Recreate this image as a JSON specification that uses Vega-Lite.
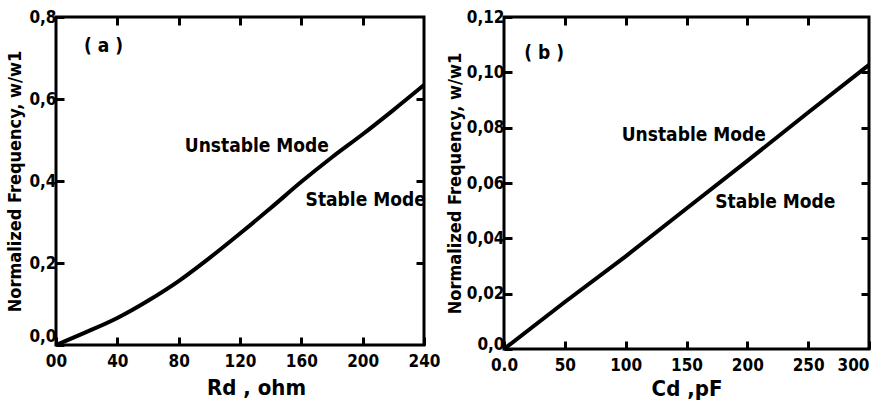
{
  "$schema": "https://vega.github.io/schema/vega-lite/v6.json",
  "background": "white",
  "padding": {"left": 5, "top": 6, "right": 2, "bottom": 2},
  "spacing": 2,
  "config": {
    "font": "DejaVu Sans",
    "view": {"stroke": "black", "strokeWidth": 3},
    "axis": {
      "domain": false,
      "grid": false,
      "ticks": true,
      "tickSize": -8,
      "tickWidth": 3,
      "tickColor": "black",
      "labelFont": "DejaVu Sans Condensed",
      "labelFontSize": 17,
      "labelFontWeight": "bold",
      "labelColor": "black",
      "titleFont": "DejaVu Sans Condensed",
      "titleFontWeight": "bold",
      "titleColor": "black"
    },
    "axisX": {"labelPadding": 16},
    "axisY": {"labelPadding": 8},
    "text": {"font": "DejaVu Sans Condensed", "fontWeight": "bold", "fontSize": 19, "color": "black"}
  },
  "datasets": {
    "a": [
      {"x": 0, "y": 0}, {"x": 20, "y": 0.032}, {"x": 40, "y": 0.066}, {"x": 60, "y": 0.108},
      {"x": 80, "y": 0.156}, {"x": 100, "y": 0.212}, {"x": 120, "y": 0.272}, {"x": 140, "y": 0.334},
      {"x": 160, "y": 0.398}, {"x": 180, "y": 0.458}, {"x": 200, "y": 0.514}, {"x": 220, "y": 0.573},
      {"x": 240, "y": 0.634}
    ],
    "b": [
      {"x": 0, "y": 0}, {"x": 50, "y": 0.017}, {"x": 100, "y": 0.0335}, {"x": 150, "y": 0.0508},
      {"x": 200, "y": 0.068}, {"x": 250, "y": 0.0855}, {"x": 300, "y": 0.1027}
    ]
  },
  "hconcat": [
    {
      "width": 368,
      "height": 328,
      "resolve": {"axis": {"x": "independent", "y": "independent"}},
      "layer": [
        {
          "data": {"name": "a"},
          "mark": {"type": "line", "color": "black", "strokeWidth": 4, "interpolate": "monotone"},
          "encoding": {
            "x": {"field": "x", "type": "quantitative", "scale": {"domain": [0, 240], "nice": false},
              "axis": {"values": [0, 40, 80, 120, 160, 200, 240], "labelExpr": "datum.value == 0 ? '00' : datum.label", "title": "Rd , ohm", "titleFontSize": 22, "titlePadding": 8, "titleX": 200, "labelFlush": false}},
            "y": {"field": "y", "type": "quantitative", "scale": {"domain": [0, 0.8], "nice": false},
              "axis": {"values": [0, 0.2, 0.4, 0.6, 0.8], "labelExpr": "replace(format(datum.value, '.1f'), '.', ',')", "labelBaseline": {"condition": {"test": "datum.value == 0", "value": "bottom"}, "value": "middle"}, "title": "Normalized Frequency, w/w1", "titleFontSize": 18, "titlePadding": 4}}
          }
        },
        {
          "data": {"name": "a"},
          "mark": {"type": "line", "opacity": 0},
          "encoding": {
            "x": {"field": "x", "type": "quantitative", "axis": {"orient": "top", "values": [40, 80, 120, 160, 200], "labels": false, "title": null}},
            "y": {"field": "y", "type": "quantitative", "axis": {"orient": "right", "values": [0.2, 0.4, 0.6], "labels": false, "title": null}}
          }
        },
        {
          "data": {"values": [{}]},
          "mark": {"type": "text"},
          "encoding": {"x": {"datum": 31, "type": "quantitative", "axis": null}, "y": {"datum": 0.73, "type": "quantitative", "axis": null}, "text": {"value": "( a )"}}
        },
        {
          "data": {"values": [{}]},
          "mark": {"type": "text"},
          "encoding": {"x": {"datum": 131, "type": "quantitative", "axis": null}, "y": {"datum": 0.485, "type": "quantitative", "axis": null}, "text": {"value": "Unstable Mode"}}
        },
        {
          "data": {"values": [{}]},
          "mark": {"type": "text"},
          "encoding": {"x": {"datum": 202, "type": "quantitative", "axis": null}, "y": {"datum": 0.353, "type": "quantitative", "axis": null}, "text": {"value": "Stable Mode"}}
        }
      ]
    },
    {
      "width": 365,
      "height": 332,
      "resolve": {"axis": {"x": "independent", "y": "independent"}},
      "layer": [
        {
          "data": {"name": "b"},
          "mark": {"type": "line", "color": "black", "strokeWidth": 4},
          "encoding": {
            "x": {"field": "x", "type": "quantitative", "scale": {"domain": [0, 300], "nice": false},
              "axis": {"values": [0, 50, 100, 150, 200, 250, 300], "labelExpr": "datum.value == 0 ? '0.0' : datum.label", "labelAlign": {"condition": {"test": "datum.value == 300", "value": "right"}, "value": "center"}, "title": "Cd ,pF", "titleFontSize": 22, "titlePadding": 5, "labelFlush": false}},
            "y": {"field": "y", "type": "quantitative", "scale": {"domain": [0, 0.12], "nice": false},
              "axis": {"values": [0, 0.02, 0.04, 0.06, 0.08, 0.1, 0.12], "labelExpr": "datum.value == 0 ? '0,0' : replace(format(datum.value, '.2f'), '.', ',')", "labelBaseline": {"condition": {"test": "datum.value == 0", "value": "alphabetic"}, "value": "middle"}, "title": "Normalized Frequency, w/w1", "titleFontSize": 18, "titlePadding": 2}}
          }
        },
        {
          "data": {"name": "b"},
          "mark": {"type": "line", "opacity": 0},
          "encoding": {
            "x": {"field": "x", "type": "quantitative", "axis": {"orient": "top", "values": [50, 100, 150, 200, 250], "labels": false, "title": null}},
            "y": {"field": "y", "type": "quantitative", "axis": {"orient": "right", "values": [0.02, 0.04, 0.06, 0.08, 0.1], "labels": false, "title": null}}
          }
        },
        {
          "data": {"values": [{}]},
          "mark": {"type": "text"},
          "encoding": {"x": {"datum": 33, "type": "quantitative", "axis": null}, "y": {"datum": 0.107, "type": "quantitative", "axis": null}, "text": {"value": "( b )"}}
        },
        {
          "data": {"values": [{}]},
          "mark": {"type": "text"},
          "encoding": {"x": {"datum": 156, "type": "quantitative", "axis": null}, "y": {"datum": 0.0774, "type": "quantitative", "axis": null}, "text": {"value": "Unstable Mode"}}
        },
        {
          "data": {"values": [{}]},
          "mark": {"type": "text"},
          "encoding": {"x": {"datum": 223, "type": "quantitative", "axis": null}, "y": {"datum": 0.053, "type": "quantitative", "axis": null}, "text": {"value": "Stable Mode"}}
        }
      ]
    }
  ]
}
